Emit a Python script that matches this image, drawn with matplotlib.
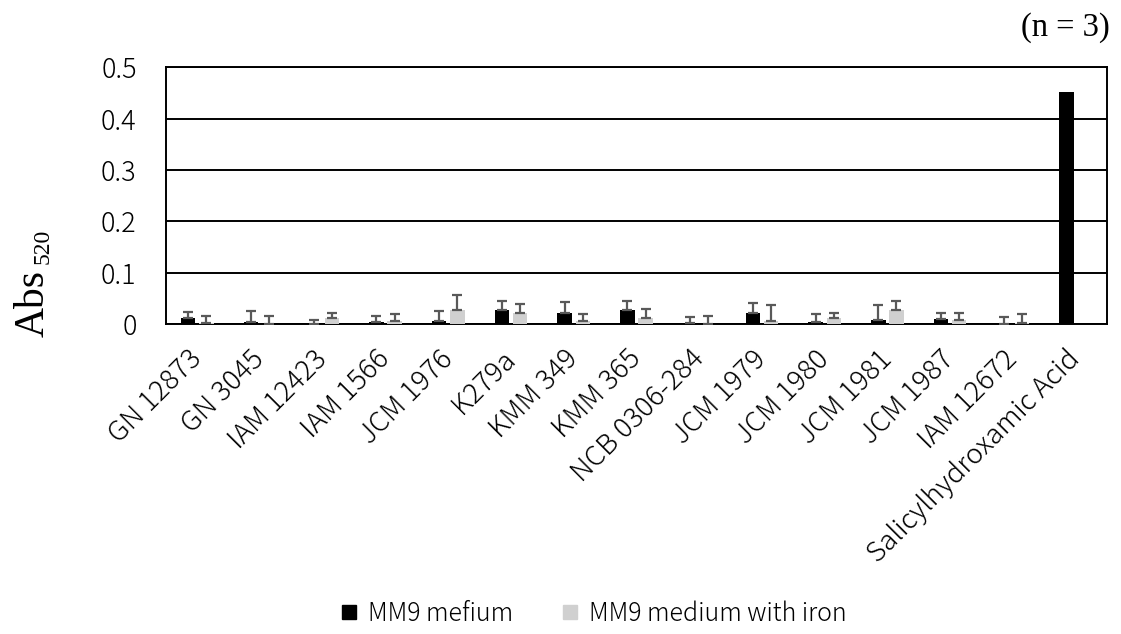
import numpy as np
import matplotlib
matplotlib.use("Agg")
import matplotlib.pyplot as plt
from matplotlib.lines import Line2D

strains = ["GN 12873", "GN 3045", "IAM 12423", "IAM 1566", "JCM 1976", "K279a",
           "KMM 349", "KMM 365", "NCB 0306-284", "JCM 1979", "JCM 1980",
           "JCM 1981", "JCM 1987", "IAM 12672", "Salicylhydroxamic Acid"]

mm9 = [0.012, 0.003, 0.0, 0.003, 0.006, 0.027, 0.022, 0.027, 0.002, 0.022,
       0.003, 0.008, 0.010, 0.0, 0.451]
mm9_err = [0.011, 0.022, 0.007, 0.013, 0.019, 0.018, 0.021, 0.017, 0.012, 0.018,
           0.017, 0.028, 0.011, 0.013, 0.0]

mm9_fe = [0.001, 0.0, 0.012, 0.006, 0.027, 0.022, 0.006, 0.012, 0.0, 0.006,
          0.012, 0.027, 0.008, 0.001, 0.0]
mm9_fe_err = [0.015, 0.016, 0.009, 0.013, 0.029, 0.017, 0.014, 0.018, 0.016, 0.030,
              0.009, 0.018, 0.013, 0.018, 0.0]

series_labels = ["MM9 mefium", "MM9 medium with iron"]
yticks = [0, 0.1, 0.2, 0.3, 0.4, 0.5]
ytick_labels = ["0", "0.1", "0.2", "0.3", "0.4", "0.5"]

sans = ["Noto Sans CJK JP", "DejaVu Sans"]
serif = "Liberation Serif"
BLACK, GREY, ERR = "black", "#d0d0d0", "#595959"

fig = plt.figure(figsize=(11.21, 6.34), dpi=100)
ax = fig.add_axes([0.148, 0.489, 0.8395, 0.405])

x = np.arange(len(strains))
w = 0.23
off = 0.145
err_kw = dict(ecolor=ERR, elinewidth=1.6, capsize=3.5, capthick=1.6, fmt="none", zorder=4)

ax.bar(x - off, mm9, w, color=BLACK, zorder=3)
ax.bar(x + off, mm9_fe, w, color=GREY, zorder=3)

# upper-only error bars, skipped where no deviation was measured
for pos, vals, errs in ((x - off, mm9, mm9_err), (x + off, mm9_fe, mm9_fe_err)):
    vals = np.asarray(vals)
    errs = np.asarray(errs)
    keep = errs > 0
    ax.errorbar(pos[keep], vals[keep], yerr=[np.zeros(keep.sum()), errs[keep]], **err_kw)

ax.set_xlim(-0.5, len(strains) - 0.5)
ax.set_ylim(0, 0.5)
ax.set_yticks(yticks)
ax.set_yticklabels(ytick_labels, family=sans, fontsize=19.5, fontweight="light")
ax.set_xticks(x)
ax.set_xticklabels(strains, family=sans, fontsize=20, fontweight="light", rotation=45,
                   ha="right", va="center", rotation_mode="anchor")
ax.tick_params(axis="both", length=0)
ax.tick_params(axis="y", pad=21)
ax.tick_params(axis="x", pad=22)
ax.yaxis.grid(True, color="black", linewidth=1.4, zorder=0)
ax.set_axisbelow(True)
for s in ax.spines.values():
    s.set_color("black")
    s.set_linewidth(1.4)

# y-axis title: "Abs" with a lowered, smaller "520"
fig.text(0.0385, 0.4685, "Abs", family=serif, fontsize=30, rotation=90,
         rotation_mode="anchor", ha="left", va="baseline")
fig.text(0.0435, 0.584, "520", family=serif, fontsize=17, rotation=90,
         rotation_mode="anchor", ha="left", va="baseline")

fig.text(0.99, 0.956, "(n = 3)", family=serif, fontsize=23.5,
         ha="right", va="center")

handles = [Line2D([], [], marker="s", linestyle="none", color=BLACK, markersize=9.5),
           Line2D([], [], marker="s", linestyle="none", color=GREY, markersize=9.5)]
fig.legend(handles, series_labels, loc="center", bbox_to_anchor=(0.530, 0.032),
           ncol=2, frameon=False, prop={"family": sans, "size": 18, "weight": "light"},
           handletextpad=0.45, columnspacing=2.0, handlelength=0.6)

fig.savefig("out.png", dpi=100)
